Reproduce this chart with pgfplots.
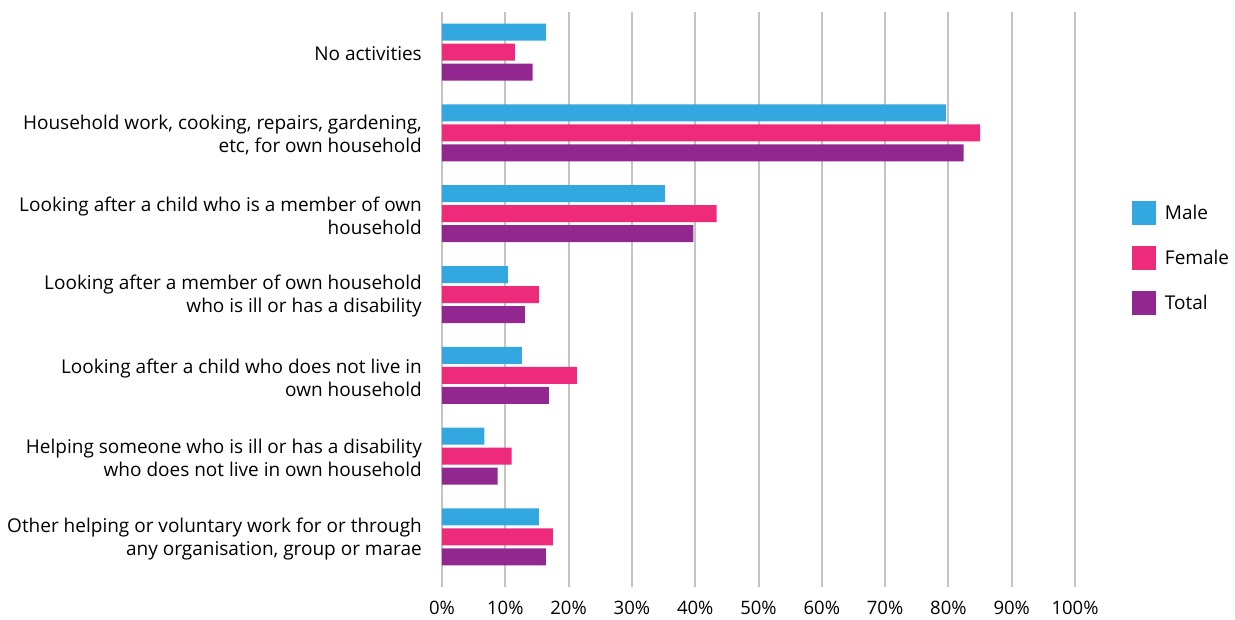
\documentclass[border=0pt]{standalone}
\usepackage{fontspec}
\setmainfont{Open Sans}
\usepackage{pgfplots}
\pgfplotsset{compat=1.18}
\definecolor{male}{HTML}{33A8E0}
\definecolor{female}{HTML}{EE2A7B}
\definecolor{total}{HTML}{92278F}
\definecolor{gridgray}{HTML}{C4C4C4}
\begin{document}
\begin{tikzpicture}[font=\fontsize{19}{23}\selectfont]
\useasboundingbox (0,0) rectangle (1235pt,619pt);
\begin{axis}[
  at={(442pt,41.6pt)}, anchor=south west,
  scale only axis, width=633pt, height=565.8pt,
  xbar, bar width=17pt,
  xmin=0, xmax=100, ymin=-0.5, ymax=6.5,
  xtick={0,10,...,100},
  xticklabel={\pgfmathprintnumber{\tick}\%},
  /pgf/number format/assume math mode=true,
  ytick={0,...,6},
  yticklabels={{Other helping or voluntary work for or through\\any organisation, group or marae},
    {Helping someone who is ill or has a disability\\who does not live in own household},
    {Looking after a child who does not live in\\own household},
    {Looking after a member of own household\\who is ill or has a disability},
    {Looking after a child who is a member of own\\household},
    {Household work, cooking, repairs, gardening,\\etc, for own household},
    {No activities}},
  yticklabel style={align=right, inner sep=0pt, xshift=-10pt, yshift=-2pt, font=\fontsize{19}{23}\selectfont},
  xticklabel style={inner sep=0pt, yshift=-13pt, font=\fontsize{18.5}{22}\selectfont},
  axis line style={draw=none},
  xmajorgrids, grid style={draw=gridgray, line width=2pt},
  tick align=outside, xtick pos=bottom,
  x tick style={draw=gridgray, line width=2pt},
  major tick length=10pt,
  y tick style={draw=none},
  legend style={at={(1.090,0.6658)}, anchor=north west, draw=none, fill=none,
    inner sep=0pt, outer sep=0pt, row sep=21pt, column sep=9pt,
    nodes={inner sep=0pt, anchor=west}, font=\fontsize{19}{23}\selectfont},
  legend cell align=left,
  legend image code/.code={\path[#1,draw=none] (0pt,-12pt) rectangle (24pt,12pt);},
]
\addplot[fill=male, draw=none, bar shift=20pt] coordinates {
(15.3,0) (6.7,1) (12.6,2) (10.4,3) (35.2,4) (79.6,5) (16.4,6)};
\addplot[fill=female, draw=none, bar shift=0pt] coordinates {
(17.5,0) (11.0,1) (21.3,2) (15.3,3) (43.4,4) (85.0,5) (11.5,6)};
\addplot[fill=total, draw=none, bar shift=-20pt] coordinates {
(16.4,0) (8.8,1) (16.9,2) (13.1,3) (39.7,4) (82.4,5) (14.3,6)};
\legend{Male,Female,Total}
\end{axis}
\end{tikzpicture}
\end{document}
